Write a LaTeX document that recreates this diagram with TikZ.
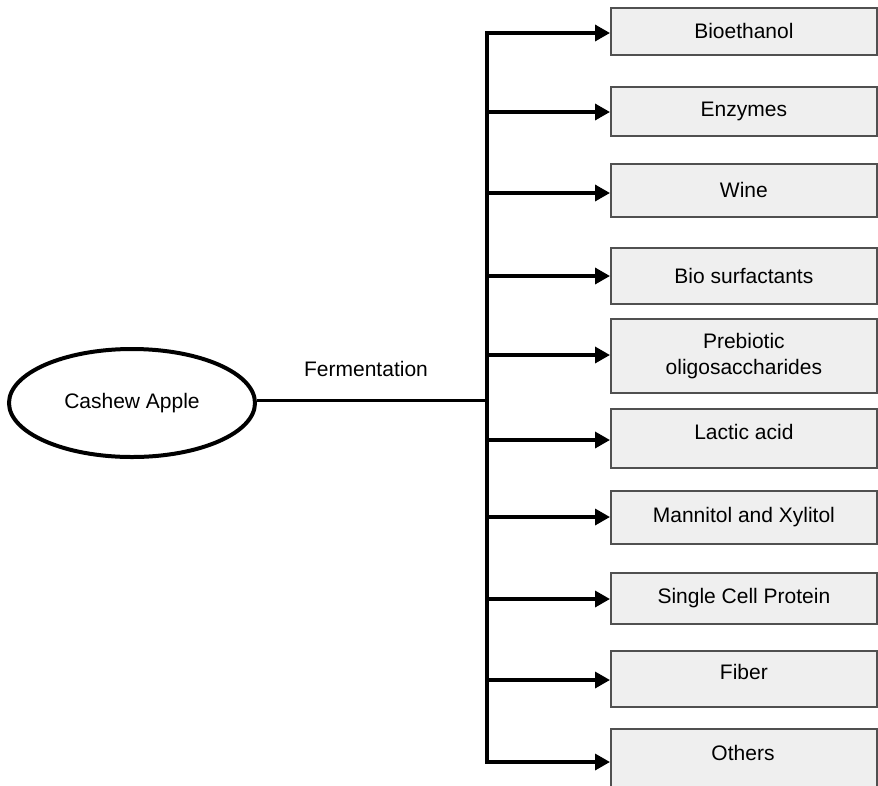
\documentclass[tikz,border=0pt]{standalone}
\usepackage{fontspec}
\setmainfont{Liberation Sans}
\usetikzlibrary{arrows.meta,shapes.geometric}
\definecolor{boxfill}{HTML}{EFEFEF}
\definecolor{boxline}{HTML}{505050}
\begin{document}
\begin{tikzpicture}[x=1pt,y=-1pt,
  prodbox/.style={draw=boxline, fill=boxfill, line width=1.8pt, rectangle,
    minimum width=266pt, inner sep=0pt, anchor=north west, align=center,
    font=\fontsize{21}{26}\selectfont},
  arr/.style={line width=3.4pt, -{Triangle[length=15pt,width=16pt]}},
  trunk/.style={line width=3.4pt, line cap=rect},
  lbl/.style={font=\fontsize{21}{26}\selectfont, inner sep=0pt}]
\useasboundingbox (0,0) rectangle (878,785);
\clip (0,0) rectangle (878,785);
% source
\node[ellipse, draw, line width=4pt, fill=white, minimum width=246pt, minimum height=108pt,
  font=\fontsize{21}{26}\selectfont] (apple) at (132,403) {Cashew Apple};
\node[lbl] (ferm) at (366,369) {Fermentation};
% products
\node[prodbox, minimum height=47pt] (b1) at (610,7) {Bioethanol};
\node[prodbox, minimum height=49pt] (b2) at (610,86) {Enzymes};
\node[prodbox, minimum height=53pt] (b3) at (610,163) {Wine};
\node[prodbox, minimum height=56pt] (b4) at (610,247) {Bio surfactants};
\node[prodbox, minimum height=74pt] (b5) at (610,318) {Prebiotic\\oligosaccharides};
\node[prodbox, minimum height=59pt, text depth=14pt] (b6) at (610,408) {Lactic acid};
\node[prodbox, minimum height=53pt] (b7) at (610,490) {Mannitol and Xylitol};
\node[prodbox, minimum height=51pt] (b8) at (610,572) {Single Cell Protein};
\node[prodbox, minimum height=56pt, text depth=14pt] (b9) at (610,650) {Fiber};
\node[prodbox, minimum height=80pt] (b10) at (610,728) {};
\node[lbl] (othertext) at (743,753) {Others};
% trunk
\coordinate (j) at (487,400);
\coordinate (t1) at (487,33);
\coordinate (t2) at (487,112);
\coordinate (t3) at (487,193);
\coordinate (t4) at (487,276);
\coordinate (t5) at (487,355);
\coordinate (t6) at (487,440);
\coordinate (t7) at (487,517);
\coordinate (t8) at (487,599);
\coordinate (t9) at (487,680);
\coordinate (t10) at (487,762);
\draw[line width=3pt] (apple.east |- j) -- (j);
\draw[trunk] (t1) -- (t10);
\foreach \i in {1,...,10}{
  \draw[arr] (t\i) -- (t\i -| b\i.west);
}
\end{tikzpicture}
\end{document}
